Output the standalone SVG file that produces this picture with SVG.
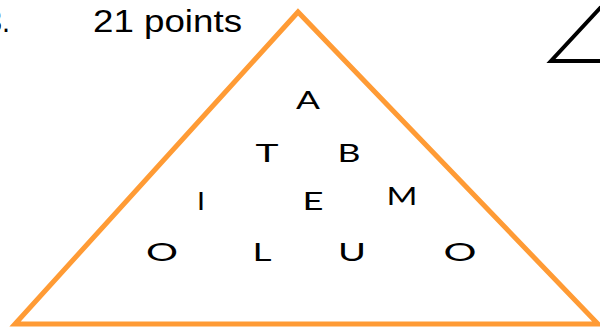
<svg xmlns="http://www.w3.org/2000/svg" width="600" height="327" viewBox="0 0 600 327">
<style>
.t{font-family:"Liberation Sans",Arial,sans-serif;font-size:31px;fill:#000}
.l{font-family:Lato,"Liberation Sans",sans-serif;font-size:25px;fill:#000;text-anchor:middle}
</style>
<rect width="600" height="327" fill="#fff"/>
<g id="heading">
<text class="t" x="-14" y="32" textLength="24" lengthAdjust="spacingAndGlyphs">3.</text>
<text class="t" x="93" y="32" textLength="149" lengthAdjust="spacingAndGlyphs">21 points</text>
</g>
<g id="triangle">
<path d="M298,12 L15,324 L598,324 Z" fill="none" stroke="#FF9B35" stroke-width="5" stroke-linejoin="miter"/>
</g>
<g id="corner-triangle">
<path d="M601,7 L551,61 L602,61" fill="none" stroke="#000" stroke-width="4"/>
</g>
<g id="letters">
<text class="l" x="308" y="109" textLength="24" lengthAdjust="spacingAndGlyphs">A</text>
<text class="l" x="267" y="162" textLength="23" lengthAdjust="spacingAndGlyphs">T</text>
<text class="l" x="349" y="162" textLength="23" lengthAdjust="spacingAndGlyphs">B</text>
<text class="l" x="201" y="210" textLength="8" lengthAdjust="spacingAndGlyphs">I</text>
<text class="l" x="313" y="210" textLength="21" lengthAdjust="spacingAndGlyphs">E</text>
<text class="l" x="402" y="205" textLength="31" lengthAdjust="spacingAndGlyphs">M</text>
<text class="l" x="162" y="261" textLength="32" lengthAdjust="spacingAndGlyphs">O</text>
<text class="l" x="262" y="261" textLength="19" lengthAdjust="spacingAndGlyphs">L</text>
<text class="l" x="352" y="261" textLength="28" lengthAdjust="spacingAndGlyphs">U</text>
<text class="l" x="460" y="261" textLength="33" lengthAdjust="spacingAndGlyphs">O</text>
</g>
</svg>
